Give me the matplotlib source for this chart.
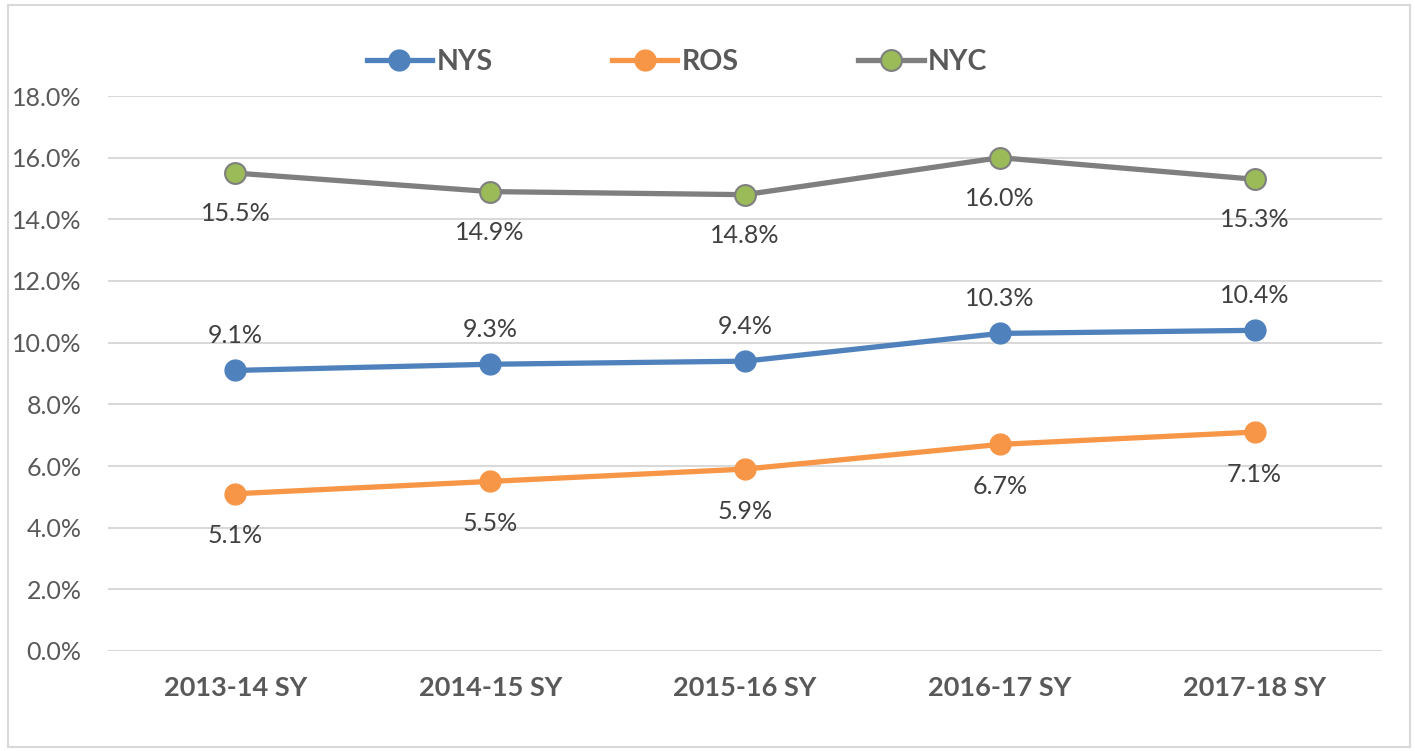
import matplotlib
matplotlib.use("Agg")
import matplotlib.pyplot as plt
from matplotlib.patches import Rectangle
from matplotlib.ticker import FuncFormatter

categories = ["2013-14 SY", "2014-15 SY", "2015-16 SY", "2016-17 SY", "2017-18 SY"]
nys = [9.1, 9.3, 9.4, 10.3, 10.4]
ros = [5.1, 5.5, 5.9, 6.7, 7.1]
nyc = [15.5, 14.9, 14.8, 16.0, 15.3]

plt.rcParams['font.family'] = ['Lato', 'DejaVu Sans']

fig = plt.figure(figsize=(14.15, 7.51), dpi=100)
ax = fig.add_axes([108/1415, 1-651/751, (1382-108)/1415, (651-96)/751])

x = list(range(len(categories)))
ax.plot(x, nys, color="#4F81BD", lw=3.8, marker="o", ms=15, mfc="#4F81BD", mec="#4F81BD", label="NYS", zorder=3)
ax.plot(x, ros, color="#F79646", lw=3.8, marker="o", ms=15, mfc="#F79646", mec="#F79646", label="ROS", zorder=3)
ax.plot(x, nyc, color="#7F7F7F", lw=3.8, marker="o", ms=15, mfc="#9BBB59", mec="#7F7F7F", mew=1.5, label="NYC", zorder=3)

txtc = "#404040"
fs = 18
for xi, v in zip(x, nys):
    ax.annotate(f"{v:.1f}%", (xi, v), xytext=(0, 17), textcoords="offset points", ha="center", va="bottom", fontsize=fs, color=txtc)
for xi, v in zip(x, ros):
    ax.annotate(f"{v:.1f}%", (xi, v), xytext=(0, -22), textcoords="offset points", ha="center", va="top", fontsize=fs, color=txtc)
for xi, v in zip(x, nyc):
    ax.annotate(f"{v:.1f}%", (xi, v), xytext=(0, -21), textcoords="offset points", ha="center", va="top", fontsize=fs, color=txtc)

ax.set_xlim(-0.5, 4.5)
ax.set_ylim(0, 18)
ax.set_yticks([0, 2, 4, 6, 8, 10, 12, 14, 16, 18])
ax.yaxis.set_major_formatter(FuncFormatter(lambda v, p: f"{v:.1f}%"))
ax.set_xticks(x)
ax.set_xticklabels(categories, fontsize=19.5, fontweight="bold", color="#595959")
ax.tick_params(axis="y", labelsize=18, labelcolor="#595959", length=0, pad=19)
ax.tick_params(axis="x", length=0, pad=18)
ax.grid(axis="y", color="#D9D9D9", lw=1.5)
ax.set_axisbelow(True)
for s in ax.spines.values():
    s.set_visible(False)

leg = fig.legend(loc="center", bbox_to_anchor=(677/1415, 1-62/751), ncol=3, frameon=False,
                 prop={"size": 20.5, "weight": "bold"}, handlelength=2.3, columnspacing=4.2, handletextpad=0.15,
                 labelcolor="#595959")

fig.patches.append(Rectangle((8/1415, 4/751), 1402/1415, 742/751, transform=fig.transFigure,
                             fill=False, edgecolor="#D9D9D9", lw=1.5))

fig.savefig("out.png", dpi=100)
